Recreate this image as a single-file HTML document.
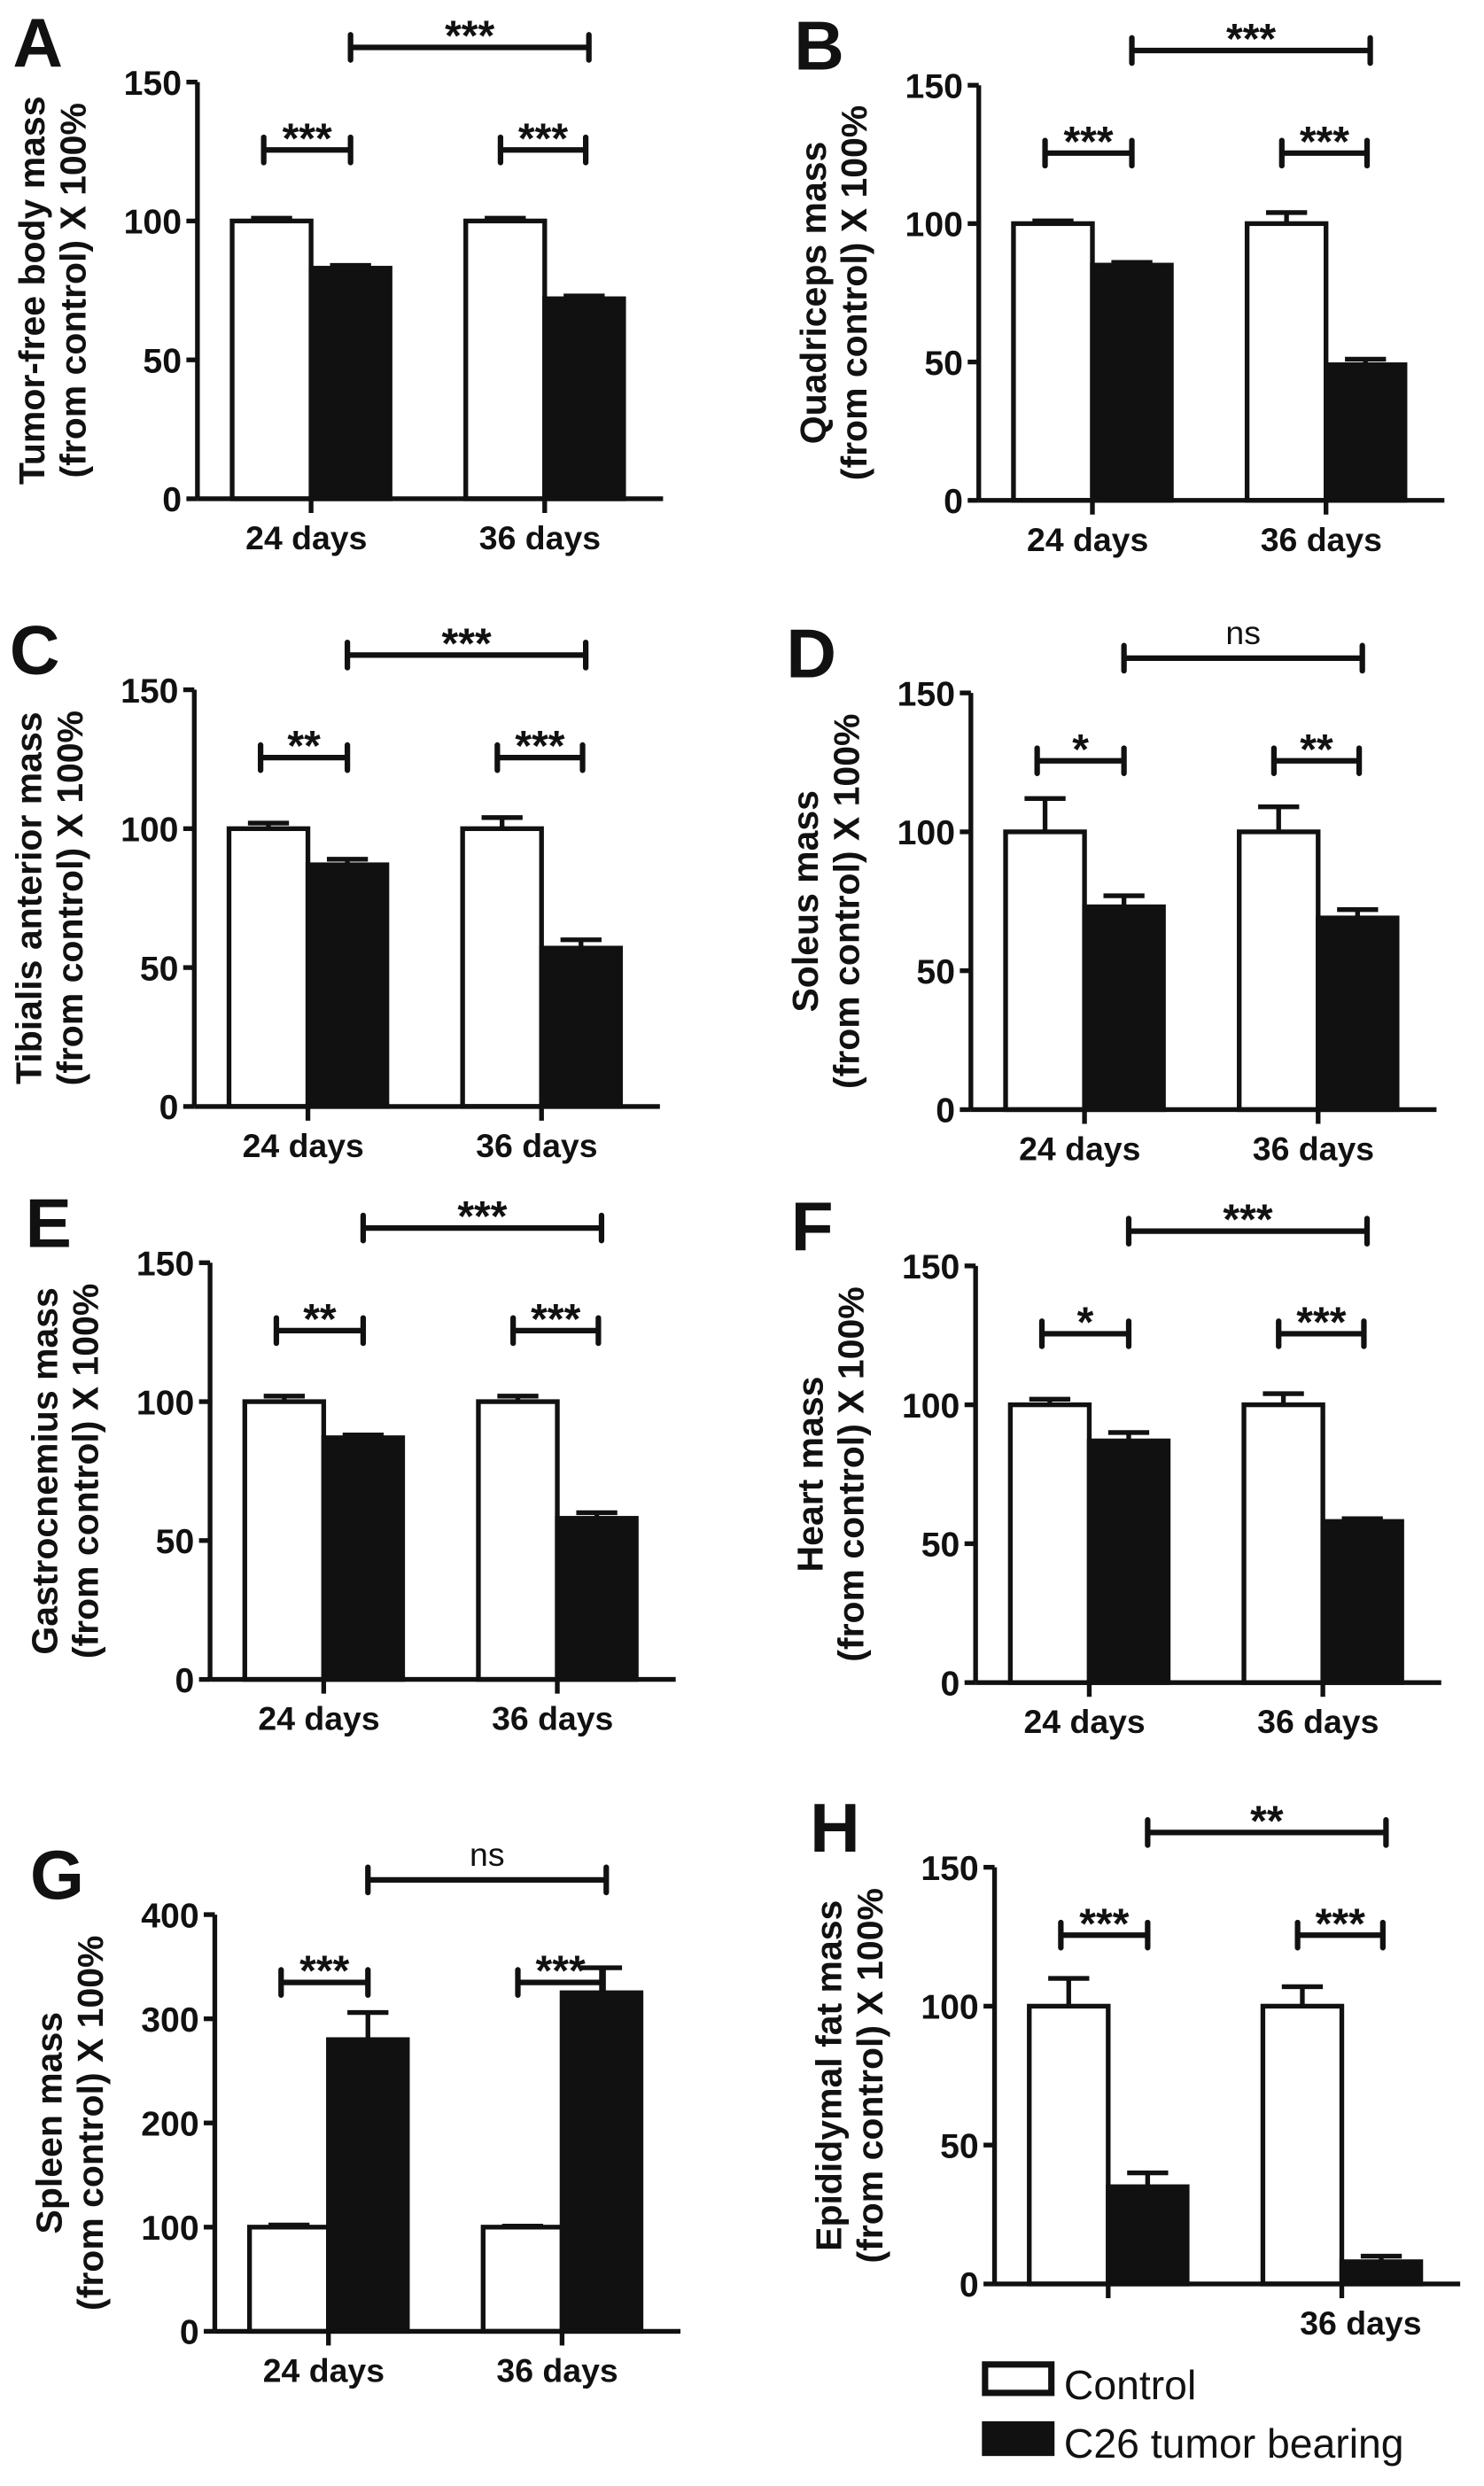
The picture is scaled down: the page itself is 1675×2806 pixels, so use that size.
<!DOCTYPE html>
<html><head><meta charset="utf-8"><style>
html,body{margin:0;padding:0;background:#fff;}
svg{display:block;}
text{font-family:"Liberation Sans",Arial,sans-serif;fill:#111;}
</style></head><body>
<svg id="fig" width="1675" height="2806" viewBox="0 0 940 1575" xmlns="http://www.w3.org/2000/svg"></svg>
<script>
// ---- data ----
const panelLetters = ["A","B","C","D","E","F","G","H"];
const yTitles = ["Tumor-free body mass","Quadriceps mass","Tibialis anterior mass","Soleus mass","Gastrocnemius mass","Heart mass","Spleen mass","Epididymal fat mass"];
const categories = ["24 days","36 days"];
const controlMeans = [[100,100],[100,100],[100,100],[100,100],[100,100],[100,100],[100,100],[100,100]];
const controlErr = [[101,101],[101,104],[102,104],[112,109],[102,102],[102,104],[102,101],[110,107]];
const tumorMeans = [[83,72],[85,49],[87,57],[73,69],[87,58],[87,58],[280,325],[35,8]];
const tumorErr = [[84,73],[86,51],[89,60],[77,72],[88,60],[90,59],[306,349],[40,10]];
const yMax = [150,150,150,150,150,150,400,150];
const tickStep = [50,50,50,50,50,50,100,50];
const sigPair = [["***","***"],["***","***"],["**","***"],["*","**"],["**","***"],["*","***"],["***","***"],["***","***"]];
const sigTop = ["***","***","***","ns","***","***","ns","**"];

// ---- layout (pixels in viewBox) ----
const layout = [
 {ax:125,top:52,bot:316},{ax:620,top:54,bot:317},
 {ax:123,top:437,bot:701},{ax:615,top:439,bot:703},
 {ax:133,top:800,bot:1064},{ax:618,top:802,bot:1066},
 {ax:136,top:1213,bot:1477},{ax:630,top:1183,bot:1447}
];
const svg=document.getElementById('fig');
const NS="http://www.w3.org/2000/svg";
function mk(tag,attrs,parent){const e=document.createElementNS(NS,tag);for(const k in attrs)e.setAttribute(k,attrs[k]);(parent||svg).appendChild(e);return e;}

layout.forEach((L,p)=>{
  const g=mk('g',{});
  
  
  const y=v=>L.bot-(v/yMax[p])*(L.bot-L.top);
  const gx=(gi,s)=>L.ax+22+gi*148+s*50;
  const bw=50;
  const lt=mk('text',{x:L.ax-117,y:L.top-10,'font-size':44,'font-weight':'bold'},g);
  lt.textContent=panelLetters[p];
  
  
  const cy=(L.top+L.bot)/2;
  const t1=mk('text',{x:0,y:0,'font-size':23,'font-weight':'bold','text-anchor':'middle',transform:`translate(${L.ax-97},${cy}) rotate(-90)`},g);
  t1.textContent=yTitles[p];
  
  
  const t2=mk('text',{x:0,y:0,'font-size':23,'font-weight':'bold','text-anchor':'middle',transform:`translate(${L.ax-71},${cy}) rotate(-90)`},g);
  t2.textContent="(from control) X 100%";
  
  
  for(let gi=0;gi<2;gi++){
    [[controlMeans,controlErr,'#fff','control'],[tumorMeans,tumorErr,'#111','tumor']].forEach((s,si)=>{
      const x0=gx(gi,si), v=s[0][p][gi], e=s[1][p][gi], cx=x0+bw/2;
      const el=mk('line',{x1:cx,x2:cx,y1:y(v),y2:y(e),stroke:'#111','stroke-width':3},g);
      
      
      const cap=mk('line',{x1:cx-13,x2:cx+13,y1:y(e),y2:y(e),stroke:'#111','stroke-width':3},g);
      
      
      const r=mk('rect',{x:x0,y:y(v),width:bw,height:L.bot-y(v),fill:s[2],stroke:'#111','stroke-width':3},g);
      
      
    });
  }
  const ya=mk('line',{x1:L.ax,x2:L.ax,y1:L.top,y2:L.bot,stroke:'#111','stroke-width':3},g);
  
  
  const xa=mk('line',{x1:L.ax,x2:L.ax+295,y1:L.bot,y2:L.bot,stroke:'#111','stroke-width':3},g);
  
  
  for(let v=0;v<=yMax[p];v+=tickStep[p]){
    const tk=mk('line',{x1:L.ax-7,x2:L.ax,y1:y(v),y2:y(v),stroke:'#111','stroke-width':3},g);
    
    
    const tl=mk('text',{x:L.ax-10,y:y(v)+8,'font-size':22,'font-weight':'bold','text-anchor':'end'},g);
    tl.textContent=v;
    
    
  }
  for(let gi=0;gi<2;gi++){
    const cx=gx(gi,1);
    const tk=mk('line',{x1:cx,x2:cx,y1:L.bot,y2:L.bot+9,stroke:'#111','stroke-width':3},g);
    
    
    if(p===7 && gi===0) continue;
    const xl=mk('text',{x:cx+(p===7?12:-3),y:L.bot+32,'font-size':21,'font-weight':'bold','text-anchor':'middle'},g);
    xl.textContent=categories[gi];
    
    
  }
  function bracket(x1,x2,yy,lab,h){
    const b=mk('path',{d:`M${x1} ${yy-h}V${yy+h}M${x1} ${yy}H${x2}M${x2} ${yy-h}V${yy+h}`,stroke:'#111','stroke-width':3.5,fill:'none','stroke-linecap':'round'},g);
    
    
    const s=mk('text',{x:(x1+x2)/2,y:yy-(lab==='ns'?9:-2),'font-size':lab==='ns'?21:27,'font-weight':lab==='ns'?'normal':'bold','text-anchor':'middle'},g);
    s.textContent=lab;
    
    
  }
  const by=L.top+43;
  bracket(gx(0,0)+20,gx(0,1)+25,by,sigPair[p][0],8);
  bracket(gx(1,0)+22,gx(1,1)+26,by,sigPair[p][1],8);
  bracket(gx(0,1)+25,gx(1,1)+28,L.top-22,sigTop[p],8);
});
const lg=mk('g',{});


const r1=mk('rect',{x:624,y:1498,width:42,height:18,fill:'#fff',stroke:'#111','stroke-width':4},lg);


const l1=mk('text',{x:674,y:1520,'font-size':26},lg);l1.textContent='Control';


const r2=mk('rect',{x:622,y:1534,width:46,height:22,fill:'#111'},lg);


const l2=mk('text',{x:674,y:1557,'font-size':26},lg);l2.textContent='C26 tumor bearing';


</script>
</body></html>
